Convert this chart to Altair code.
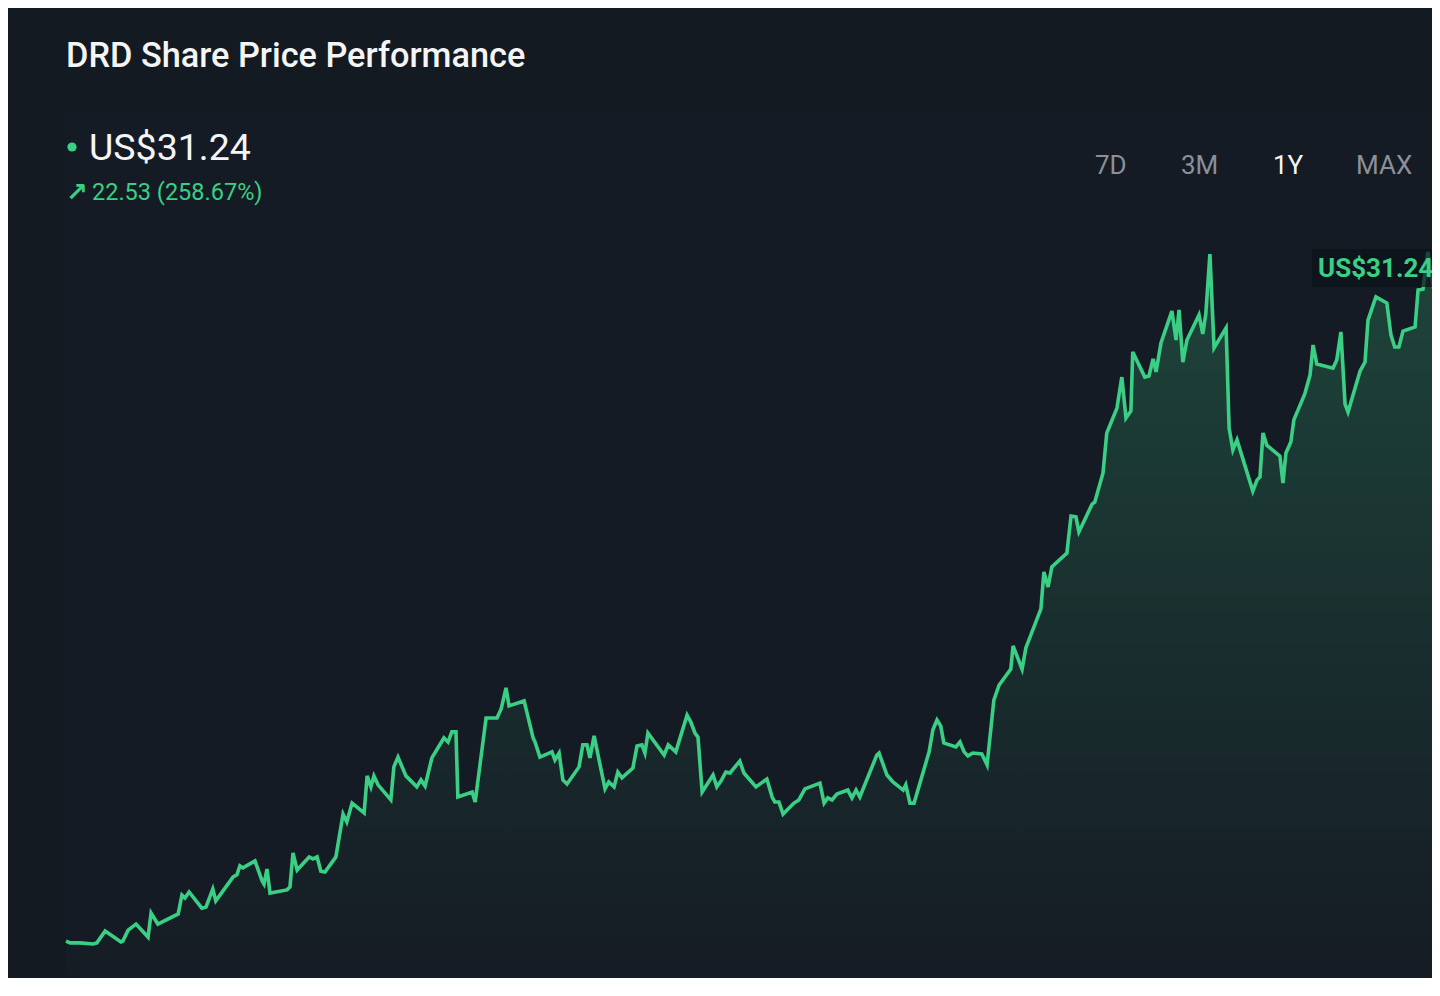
import altair as alt
import pandas as pd

# ---- data (trading-day index over one year, price in US$) ----
day = [0, 1.1, 3.7, 7.2, 8.2, 10.4, 14.6, 15.1, 16.5, 18.6, 21.8, 22.6, 24.4, 29.8, 30.8,
       31.6, 32.7, 36.1, 37.2, 39.0, 39.8, 44.4, 45.4, 46.2, 47.0, 50.2, 52.1, 52.6, 53.4, 54.2,
       58.7, 59.5, 60.3, 61.4, 64.6, 65.6, 66.7, 67.7, 68.8, 71.7, 73.6, 74.6, 76.0,
       79.2, 80.0, 81.0, 81.8, 82.9, 86.3, 87.1, 88.2, 90.3, 93.2, 94.3, 95.4, 97.2, 100.4,
       101.5, 102.5, 103.6, 104.1, 107.9, 108.7, 111.6, 114.5, 115.6, 116.9, 117.7, 121.7,
       124.1, 124.6, 125.9, 129.1, 129.9, 131.0, 132.0, 133.1, 136.3, 137.3, 138.4, 139.2,
       140.3, 143.2, 144.2, 145.6, 146.6, 147.7, 150.6, 151.7, 153.0, 153.8, 154.6, 158.9,
       160.0, 162.0, 165.0, 166.0, 167.1, 167.9, 169.0, 171.9, 172.9, 174.0, 175.3, 176.4,
       179.0, 180.1, 183.3, 186.2, 187.6, 188.3, 189.4, 190.5, 193.4, 194.7, 196.3, 200.3,
       201.4, 202.4, 203.5, 204.8, 207.7, 208.8, 209.9, 210.9, 215.4, 216.0, 218.1, 219.7,
       222.4, 223.1, 224.2, 225.3, 229.3, 230.3, 231.4, 232.4, 233.2, 236.4, 237.5, 238.6,
       239.6, 240.9, 243.3, 244.7, 246.5, 247.9, 251.0, 251.6, 254.0, 255.0, 259.0, 259.8,
       260.9, 261.9, 265.9, 267.0, 268.3, 269.1, 272.6, 273.3, 275.5, 276.5, 279.2, 280.5,
       281.6, 282.9, 283.4, 286.6, 287.7, 288.8, 289.6, 290.9, 293.8, 294.9, 295.7, 296.7,
       297.8, 301.0, 302.0, 302.8, 303.9, 305.0, 308.2, 309.0, 310.0, 311.1, 315.3, 316.4,
       317.2, 318.0, 319.0, 322.5, 323.3, 324.1, 325.4, 326.2, 329.1, 330.5, 331.3, 332.3,
       336.6, 337.6, 338.7, 339.8, 340.6, 343.8, 345.1, 345.9, 348.0, 350.9, 352.0, 353.0,
       354.1, 355.2, 358.4, 359.2, 360.5, 361.8, 363.4, 365.0]

price = [8.74, 8.68, 8.68, 8.64, 8.68, 9.09, 8.71, 8.74, 9.12, 9.33, 8.88, 9.71, 9.33, 9.68, 10.33,
         10.23, 10.44, 9.88, 9.92, 10.54, 10.13, 10.96, 11.03, 11.34, 11.27, 11.51, 10.82, 10.71, 11.23, 10.40,
         10.51, 10.61, 11.79, 11.20, 11.65, 11.58, 11.65, 11.16, 11.13, 11.65, 13.13, 12.86, 13.51,
         13.17, 14.45, 14.07, 14.45, 14.14, 13.62, 14.76, 15.10, 14.45, 14.07, 14.31, 14.10, 15.07, 15.76,
         15.62, 15.97, 15.97, 13.72, 13.89, 13.55, 16.45, 16.45, 16.76, 17.49, 16.87, 17.04,
         15.76, 15.62, 15.10, 15.28, 15.00, 15.24, 14.31, 14.17, 14.76, 15.52, 15.52, 15.07,
         15.83, 14.00, 14.24, 14.07, 14.58, 14.38, 14.72, 15.48, 15.52, 15.24, 15.93, 15.17,
         15.52, 15.28, 16.55, 16.31, 15.93, 15.79, 13.89, 14.48, 14.07, 14.27, 14.58, 14.55,
         14.96, 14.55, 14.07, 14.34, 13.72, 13.55, 13.55, 13.13, 13.51, 13.62, 14.00, 14.20,
         13.51, 13.69, 13.62, 13.82, 13.96, 13.69, 13.96, 13.72, 15.17, 15.24, 14.48, 14.24,
         13.96, 14.14, 13.51, 13.51, 15.28, 16.04, 16.38, 16.17, 15.59, 15.45, 15.62, 15.28,
         15.14, 15.24, 15.21, 14.83, 17.07, 17.59, 18.14, 18.94, 18.14, 18.87, 20.22, 21.50,
         20.98, 21.67, 22.15, 23.43, 23.40, 22.88, 23.84, 23.91, 24.92, 26.30, 27.16, 28.23,
         26.82, 27.06, 29.10, 28.23, 28.27, 28.86, 28.41, 29.41, 30.51, 29.51, 30.55, 28.75,
         29.51, 30.38, 29.72, 30.41, 32.48, 29.24, 29.93, 26.47, 25.71, 26.06, 24.29, 24.67,
         24.78, 26.30, 25.88, 25.50, 24.57, 25.61, 25.99, 26.75, 27.65, 28.30, 29.34, 28.68,
         28.54, 28.82, 29.79, 27.30, 27.02, 28.44, 28.75, 30.20, 31.00, 30.79, 29.68, 29.27,
         29.27, 29.82, 29.96, 31.24, 31.27, 32.55, 31.24, 31.24]

title_text = "DRD Share Price Performance"
last_price_text = "US$31.24"
change_text = "22.53 (258.67%)"
range_buttons = ["7D", "3M", "1Y", "MAX"]
active_button = "1Y"

# ---- styling ----
BG = "#141a22"
PANEL = "#151b24"
GREEN = "#3bcf85"
GREY = "#8b9099"
WHITE = "#f4f5f7"
FONT = "Roboto"

W, H = 1424, 970

df = pd.DataFrame({"day": day, "price": price})

x_scale = alt.Scale(domain=[-15.41, 362.9], nice=False, zero=False)
y_scale = alt.Scale(domain=[7.466, 40.984], nice=False, zero=False)

base = alt.Chart(df)

gradient = alt.Gradient(
    gradient="linear",
    stops=[
        alt.GradientStop(color="rgba(59,207,133,0.23)", offset=0),
        alt.GradientStop(color="rgba(59,207,133,0.10)", offset=0.42),
        alt.GradientStop(color="rgba(59,207,133,0.0)", offset=0.78),
    ],
    x1=0, y1=0, x2=0, y2=1,
)

area = base.mark_area(color=gradient, clip=True).encode(
    x=alt.X("day:Q", scale=x_scale, axis=None),
    y=alt.Y("price:Q", scale=y_scale, axis=None),
)

line = base.mark_line(color=GREEN, strokeWidth=3.6, clip=True).encode(
    x=alt.X("day:Q", scale=x_scale, axis=None),
    y=alt.Y("price:Q", scale=y_scale, axis=None),
)

one = alt.Data(values=[{"k": 1}])

panel = alt.Chart(one).mark_rect(color=PANEL).encode(
    x=alt.value(58), x2=alt.value(W), y=alt.value(106), y2=alt.value(H)
)


def txt(s, x, y, size, color, weight="normal", font=FONT, align="left"):
    return alt.Chart(alt.Data(values=[{"t": s}])).mark_text(
        align=align, baseline="alphabetic", fontSize=size, font=font,
        fontWeight=weight, color=color
    ).encode(x=alt.value(x), y=alt.value(y), text="t:N")


title = txt(title_text, 58, 59, 34.3, WHITE, weight=500)
dot = alt.Chart(one).mark_circle(size=85, color=GREEN, opacity=1).encode(
    x=alt.value(64), y=alt.value(139)
)
big_price = txt(last_price_text, 81, 152, 37.5, WHITE)
arrow = txt("↗", 58, 193, 26, GREEN, weight="bold", font="DejaVu Sans")
change = txt(change_text, 84, 192, 23.5, GREEN)

btn_x = [1087, 1173, 1265, 1348]
buttons = [
    txt(b, bx, 166, 26, WHITE if b == active_button else GREY)
    for b, bx in zip(range_buttons, btn_x)
]

label_box = alt.Chart(one).mark_rect(color="#0d1218", opacity=0.72).encode(
    x=alt.value(1304), x2=alt.value(W), y=alt.value(241), y2=alt.value(279)
)
label_text = txt(last_price_text, 1310, 269, 26, GREEN, weight="bold")

chart = alt.layer(
    panel, area, line, label_box, label_text,
    title, dot, big_price, arrow, change, *buttons
).properties(
    width=W, height=H, padding=0,
    autosize=alt.AutoSizeParams(type="none"),
    background=BG,
).configure_view(stroke=None)

chart.save("out.html", embed_options={"renderer": "svg", "actions": False})
